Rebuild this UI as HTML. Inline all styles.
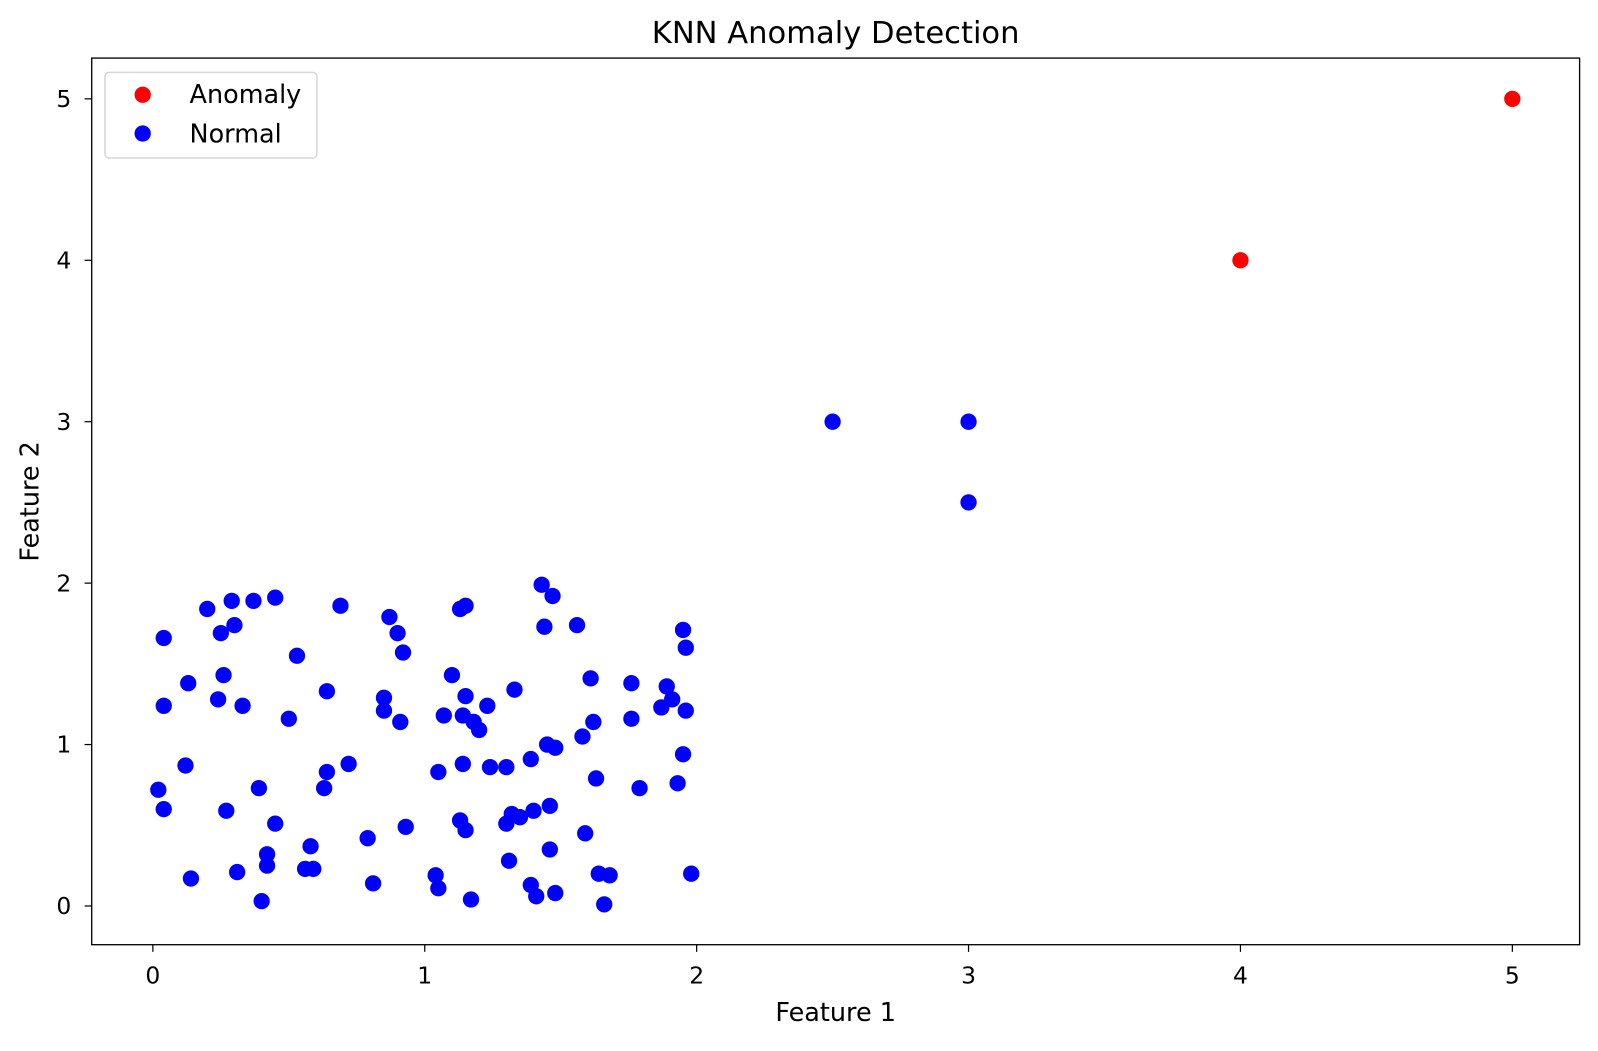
<!DOCTYPE html>
<html><head><meta charset="utf-8"><style>
body{margin:0;background:#fff;}
svg text{font-family:"DejaVu Sans","Liberation Sans",sans-serif;fill:#000;}
</style></head><body>
<svg id="chart" width="1598" height="1046" xmlns="http://www.w3.org/2000/svg">
<rect width="1598" height="1046" fill="#fff"/>
<g transform="scale(1.0191)">
<g id="marks"></g>
<rect x="90" y="57" width="1460" height="870" fill="none" stroke="#000" stroke-width="1.3"/>
<g id="axes"></g>
<text x="820" y="42" font-size="30" text-anchor="middle">KNN Anomaly Detection</text>
<text x="820" y="1002" font-size="25" text-anchor="middle">Feature 1</text>
<text x="38" y="492" font-size="25" text-anchor="middle" transform="rotate(-90 38 492)">Feature 2</text>
<g>
<rect x="103" y="71" width="208" height="84" rx="4" fill="#fff" stroke="#d6d6d6" stroke-width="1.5"/>
<g><circle cx="140" cy="93" r="8" fill="#ff0000"/><text x="186" y="101" font-size="25">Anomaly</text></g>
<g><circle cx="140" cy="131" r="8" fill="#0000ff"/><text x="186" y="140" font-size="25">Normal</text></g>
</g>
</g>
</svg>
<script>
const normalX=[0.02,0.04,0.04,0.04,0.12,0.13,0.14,0.20,0.24,0.25,0.26,0.27,0.29,0.30,0.31,0.33,0.37,0.39,0.40,0.42,0.42,0.45,0.45,0.50,0.53,0.56,0.58,0.59,0.63,0.64,0.64,0.69,0.72,0.79,0.81,0.85,0.85,0.87,0.90,0.91,0.92,0.93,1.04,1.05,1.05,1.07,1.10,1.13,1.13,1.14,1.14,1.15,1.15,1.15,1.17,1.18,1.20,1.23,1.24,1.30,1.30,1.31,1.32,1.33,1.35,1.39,1.39,1.40,1.41,1.43,1.44,1.45,1.46,1.46,1.47,1.48,1.48,1.56,1.58,1.59,1.61,1.62,1.63,1.64,1.66,1.68,1.76,1.76,1.79,1.87,1.89,1.91,1.93,1.95,1.95,1.96,1.96,1.98,2.5,3,3];
const normalY=[0.72,0.60,1.24,1.66,0.87,1.38,0.17,1.84,1.28,1.69,1.43,0.59,1.89,1.74,0.21,1.24,1.89,0.73,0.03,0.32,0.25,1.91,0.51,1.16,1.55,0.23,0.37,0.23,0.73,1.33,0.83,1.86,0.88,0.42,0.14,1.29,1.21,1.79,1.69,1.14,1.57,0.49,0.19,0.83,0.11,1.18,1.43,0.53,1.84,1.18,0.88,1.30,0.47,1.86,0.04,1.14,1.09,1.24,0.86,0.86,0.51,0.28,0.57,1.34,0.55,0.13,0.91,0.59,0.06,1.99,1.73,1.00,0.62,0.35,1.92,0.98,0.08,1.74,1.05,0.45,1.41,1.14,0.79,0.20,0.01,0.19,1.38,1.16,0.73,1.23,1.36,1.28,0.76,1.71,0.94,1.60,1.21,0.20,3,3,2.5];
const anomalyX=[4,5];
const anomalyY=[4,5];
const xTicks=[0,1,2,3,4,5];
const yTicks=[0,1,2,3,4,5];
const NS="http://www.w3.org/2000/svg";
function sx(v){return 150+v*266.8;}
function sy(v){return 889-v*158.4;}
const marks=document.getElementById('marks');
const axes=document.getElementById('axes');
function dot(x,y,c,name){
  const e=document.createElementNS(NS,'circle');
  e.setAttribute('cx',sx(x));e.setAttribute('cy',sy(y));e.setAttribute('r',8);e.setAttribute('fill',c);
  
  
  marks.appendChild(e);
}
normalX.forEach((x,i)=>dot(x,normalY[i],'#0000ff','normal-point'));
anomalyX.forEach((x,i)=>dot(x,anomalyY[i],'#ff0000','anomaly-point'));
xTicks.forEach(t=>{
  const l=document.createElementNS(NS,'line');
  l.setAttribute('x1',sx(t));l.setAttribute('x2',sx(t));l.setAttribute('y1',927);l.setAttribute('y2',934);l.setAttribute('stroke','#000');l.setAttribute('stroke-width','1.2');
  
  
  axes.appendChild(l);
  const tx=document.createElementNS(NS,'text');
  tx.setAttribute('x',sx(t));tx.setAttribute('y',965);tx.setAttribute('font-size','23');tx.setAttribute('text-anchor','middle');
  tx.textContent=t;
  
  
  axes.appendChild(tx);
});
yTicks.forEach(t=>{
  const l=document.createElementNS(NS,'line');
  l.setAttribute('x1',83);l.setAttribute('x2',90);l.setAttribute('y1',sy(t));l.setAttribute('y2',sy(t));l.setAttribute('stroke','#000');l.setAttribute('stroke-width','1.2');
  
  
  axes.appendChild(l);
  const tx=document.createElementNS(NS,'text');
  tx.setAttribute('x',70);tx.setAttribute('y',sy(t)+8);tx.setAttribute('font-size','23');tx.setAttribute('text-anchor','end');
  tx.textContent=t;
  
  
  axes.appendChild(tx);
});
</script>
</body></html>
